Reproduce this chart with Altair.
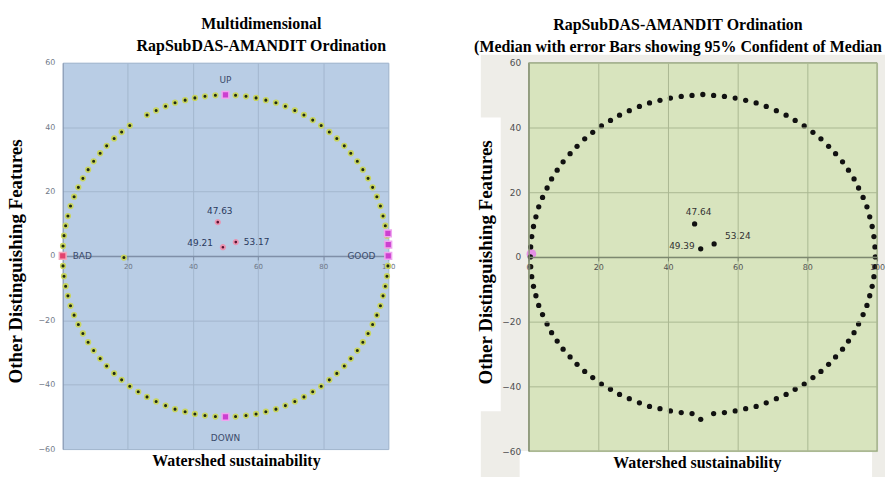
import altair as alt
import pandas as pd

# ---------------- left panel: multidimensional ordination ----------------
left_ring_x = [
    100.0, 99.9, 99.6, 99.1, 98.4, 97.6, 96.5, 95.2, 93.8, 92.2, 90.5, 88.5, 86.5,
    84.2, 81.9, 79.4, 76.8, 74.1, 71.3, 68.4, 65.5, 62.4, 59.4, 56.3, 53.1, 50.0,
    46.9, 43.7, 40.6, 37.6, 34.5, 31.6, 28.7, 25.9, 20.6, 18.1, 15.8, 13.5, 11.5,
    9.5, 7.8, 6.2, 4.8, 3.5, 2.4, 1.6, 0.9, 0.4, 0.1, 0.0,
    0.1, 0.4, 0.9, 1.6, 2.4, 3.5, 4.8, 6.2, 7.8, 9.5, 11.5, 13.5, 15.8, 18.1, 20.6,
    23.2, 25.9, 28.7, 31.6, 34.5, 37.6, 40.6, 43.7, 46.9, 50.0,
    53.1, 56.3, 59.4, 62.4, 65.5, 68.4, 71.3, 74.1, 76.8, 79.4, 81.9, 84.2, 86.5,
    88.5, 90.5, 92.2, 93.8, 95.2, 96.5, 97.6, 98.4, 99.1, 99.6, 99.9,
]
left_ring_y = [
    0.0, 3.1, 6.3, 9.4, 12.4, 15.5, 18.4, 21.3, 24.1, 26.8, 29.4, 31.9, 34.2,
    36.5, 38.5, 40.5, 42.2, 43.8, 45.2, 46.5, 47.6, 48.4, 49.1, 49.6, 49.9, 50.0,
    49.9, 49.6, 49.1, 48.4, 47.6, 46.5, 45.2, 43.8, 40.5, 38.5, 36.5, 34.2, 31.9,
    29.4, 26.8, 24.1, 21.3, 18.4, 15.5, 12.4, 9.4, 6.3, 3.1, 0.0,
    -3.1, -6.3, -9.4, -12.4, -15.5, -18.4, -21.3, -24.1, -26.8, -29.4, -31.9, -34.2,
    -36.5, -38.5, -40.5, -42.2, -43.8, -45.2, -46.5, -47.6, -48.4, -49.1, -49.6,
    -49.9, -50.0,
    -49.9, -49.6, -49.1, -48.4, -47.6, -46.5, -45.2, -43.8, -42.2, -40.5, -38.5,
    -36.5, -34.2, -31.9, -29.4, -26.8, -24.1, -21.3, -18.4, -15.5, -12.4, -9.4,
    -6.3, -3.1,
]
left_stray_x = [18.8]
left_stray_y = [-0.5]
left_ref_x = [50.0, 50.0, 100.0, 100.0, 99.9]
left_ref_y = [50.0, -50.0, 0.0, 3.5, 7.0]
left_bad_x = [0.0]
left_bad_y = [0.0]
left_anchor_names = ["UP", "DOWN", "BAD", "GOOD"]
left_anchor_x = [50.0, 50.0, 0.0, 100.0]
left_anchor_y = [50.0, -50.0, 0.0, 0.0]
left_median_x = [47.63, 49.21, 53.17]
left_median_y = [10.5, 2.7, 4.3]

# ---------------- right panel: medians ----------------
right_ring_x = [
    99.5, 99.4, 99.1, 98.6, 97.9, 97.1, 96.0, 94.7, 93.4, 91.8, 90.1, 88.1, 86.1,
    83.9, 81.6, 79.1, 76.5, 73.9, 71.1, 68.2, 65.3, 62.3, 59.3, 56.2, 53.1, 50.0,
    46.9, 43.8, 40.7, 37.7, 34.7, 31.8, 28.9, 26.1, 23.5, 20.9, 18.4, 16.1, 13.9,
    11.9, 9.9, 8.2, 6.6, 5.3, 4.0, 2.9, 2.1, 1.4, 0.9, 0.6, 0.5,
    0.6, 0.9, 1.4, 2.1, 2.9, 4.0, 5.3, 6.6, 8.2, 9.9, 11.9, 13.9, 16.1, 18.4, 20.9,
    23.5, 26.1, 28.9, 31.8, 34.7, 37.7, 40.7, 43.8, 46.9, 49.4,
    53.1, 56.2, 59.3, 62.3, 65.3, 68.2, 71.1, 73.9, 76.5, 79.1, 81.6, 83.9, 86.1,
    88.1, 90.1, 91.8, 93.4, 94.7, 96.0, 97.1, 97.9, 98.6, 99.1, 99.4,
]
right_ring_y = [
    0.0, 3.1, 6.3, 9.4, 12.4, 15.5, 18.4, 21.3, 24.1, 26.8, 29.4, 31.9, 34.2,
    36.5, 38.5, 40.5, 42.2, 43.8, 45.2, 46.5, 47.6, 48.4, 49.1, 49.6, 49.9, 50.2,
    49.9, 49.6, 49.1, 48.4, 47.6, 46.5, 45.2, 43.8, 42.2, 40.5, 38.5, 36.5, 34.2,
    31.9, 29.4, 26.8, 24.1, 21.3, 18.4, 15.5, 12.4, 9.4, 6.3, 3.1, 0.0,
    -3.0, -6.1, -9.1, -12.0, -15.0, -17.8, -20.7, -23.4, -26.0, -28.5, -30.9, -33.2,
    -35.4, -37.3, -39.3, -40.9, -42.5, -43.8, -45.1, -46.2, -46.9, -47.6, -48.1,
    -48.4, -50.2,
    -48.4, -48.1, -47.6, -46.9, -46.2, -45.1, -43.8, -42.5, -40.9, -39.3, -37.3,
    -35.4, -33.2, -30.9, -28.5, -26.0, -23.4, -20.7, -17.8, -15.0, -12.0, -9.1,
    -6.1, -3.0,
]
right_origin_x = [0.8]
right_origin_y = [0.9]
right_median_x = [47.64, 49.39, 53.24]
right_median_y = [10.2, 2.5, 4.0]

x_ticks_left = [20, 40, 60, 80, 100]
x_ticks_right = [0, 20, 40, 60, 80, 100]
y_ticks = [-60, -40, -20, 0, 20, 40, 60]

TITLE_LEFT = ["Multidimensional", "RapSubDAS-AMANDIT Ordination"]
TITLE_RIGHT = ["RapSubDAS-AMANDIT Ordination",
               "(Median with error Bars showing 95% Confident of Median"]
X_TITLE = "Watershed sustainability"
Y_TITLE = "Other Distinguishing Features"

SERIF = "Liberation Serif"
SANS = "DejaVu Sans"

W1, H1 = 327, 388
W2, H2 = 350, 390


def frame(xs, ys):
    return pd.DataFrame({"x": xs, "y": ys})


def axes(width, height, x_values, grid_color, zero_color, label_color,
         x_title_x, y_title_x, label_size, z):
    x_enc = alt.X(
        "x:Q",
        scale=alt.Scale(domain=[0, 100], nice=False, zero=False),
        axis=alt.Axis(
            values=x_values, offset=-height / 2, format="d",
            title=X_TITLE, titleX=x_title_x, titleY=height / 2 + 17,
            titleAlign="center", titleBaseline="alphabetic",
            titleFont=SERIF, titleFontSize=16, titleFontWeight="bold",
            titleColor="#000000",
            grid=True, gridColor=grid_color, gridWidth=1,
            domainColor=zero_color, domainWidth=1.5,
            tickColor=zero_color, tickSize=4,
            labelFont=SANS, labelFontSize=label_size - 1, labelColor=label_color,
            labelPadding=3, labelFlush=False, zindex=z,
        ),
    )
    y_enc = alt.Y(
        "y:Q",
        scale=alt.Scale(domain=[-60, 60], nice=False, zero=False),
        axis=alt.Axis(
            values=y_ticks, format="d",
            title=Y_TITLE, titleX=y_title_x, titleY=height / 2 + 5,
            titleAngle=-90, titleAlign="center", titleBaseline="middle",
            titleFont=SERIF, titleFontSize=19, titleFontWeight="bold",
            titleColor="#000000",
            grid=True, gridColor=grid_color, gridWidth=1,
            domainColor=zero_color, domainWidth=1, ticks=False,
            labelFont=SANS, labelFontSize=label_size, labelColor=label_color,
            labelPadding=8, zindex=z,
        ),
    )
    return x_enc, y_enc


def median_labels(df, x_enc, y_enc, placements, color, size):
    out = []
    for i, (dx, dy, align) in enumerate(placements):
        out.append(
            alt.Chart(df)
            .transform_filter(alt.datum.i == i)
            .mark_text(dx=dx, dy=dy, align=align, baseline="middle",
                       font=SANS, fontSize=size, color=color)
            .encode(x=x_enc, y=y_enc, text=alt.Text("x:Q", format=".2f"))
        )
    return out


# ---------------- left panel ----------------
X1, Y1 = axes(W1, H1, x_ticks_left, "#a3b6ce", "#7f8fa8", "#6f7888", 174, -47, 8, 0)

ring1 = alt.Chart(frame(left_ring_x + left_stray_x, left_ring_y + left_stray_y)).mark_circle(
    size=22, color="#1f2a14", opacity=1, stroke="#c9d55e", strokeWidth=1.6
).encode(x=X1, y=Y1)

refs1 = alt.Chart(frame(left_ref_x, left_ref_y)).mark_square(
    size=46, color="#cc3fd0", opacity=1, stroke="#efa6f0", strokeWidth=1.5
).encode(x=X1, y=Y1)

bad1 = alt.Chart(frame(left_bad_x, left_bad_y)).mark_square(
    size=46, color="#e2426e", opacity=1, stroke="#f5a8bd", strokeWidth=1.5
).encode(x=X1, y=Y1)

anchor_df = pd.DataFrame({"name": left_anchor_names, "x": left_anchor_x, "y": left_anchor_y})
anchor_style = dict(font=SANS, fontSize=9, color="#3b4b6b", baseline="middle")
anchor_place = {"UP": (0, -15, "center"), "DOWN": (0, 21, "center"),
                "BAD": (10, 0, "left"), "GOOD": (-13, 0, "right")}
anchor_layers = [
    alt.Chart(anchor_df).transform_filter(alt.datum.name == n)
    .mark_text(dx=p[0], dy=p[1], align=p[2], **anchor_style)
    .encode(x=X1, y=Y1, text="name:N")
    for n, p in anchor_place.items()
]

med1_df = pd.DataFrame({"x": left_median_x, "y": left_median_y, "i": [0, 1, 2]})
med1 = alt.Chart(med1_df).mark_circle(
    size=20, color="#5a1232", opacity=1, stroke="#eb93b0", strokeWidth=1.8
).encode(x=X1, y=Y1)
med1_labels = median_labels(med1_df, X1, Y1,
                            [(2, -11, "center"), (-10, -4, "right"), (8, 0, "left")],
                            "#2a3a5e", 9)

left = alt.layer(ring1, refs1, bad1, med1, *anchor_layers, *med1_labels).properties(
    width=W1, height=H1,
    view=alt.ViewBackground(fill="#b9cde5", stroke="#b9cde5"),
    title=alt.TitleParams(TITLE_LEFT, font=SERIF, fontSize=16, fontWeight="bold",
                          color="#000000", anchor="middle", frame="group",
                          dx=36, offset=5, lineHeight=22),
)

# ---------------- right panel ----------------
X2, Y2 = axes(W2, H2, x_ticks_right, "#aab892", "#7d8870", "#4f4f4f", 169, -43, 9, 1)

one = pd.DataFrame({"k": [0]})
chart_area = alt.Chart(one).mark_rect(color="#eeede8").encode(
    x=alt.value(-48), x2=alt.value(W2 + 8), y=alt.value(-8), y2=alt.value(H2 + 26))
y_title_box = alt.Chart(one).mark_rect(color="#ffffff").encode(
    x=alt.value(-57), x2=alt.value(-28), y=alt.value(55), y2=alt.value(350))
x_title_box = alt.Chart(one).mark_rect(color="#ffffff").encode(
    x=alt.value(-9), x2=alt.value(345), y=alt.value(H2), y2=alt.value(H2 + 26))
plot_area = alt.Chart(one).mark_rect(color="#d8e4be", stroke="#8d9878", strokeWidth=1).encode(
    x=alt.value(0), x2=alt.value(W2), y=alt.value(0), y2=alt.value(H2))

origin2 = alt.Chart(frame(right_origin_x, right_origin_y)).mark_circle(
    size=95, color="#e58be6", opacity=0.95
).encode(x=X2, y=Y2)

ring2 = alt.Chart(frame(right_ring_x, right_ring_y)).mark_circle(
    size=28, color="#111111", opacity=1
).encode(x=X2, y=Y2)

med2_df = pd.DataFrame({"x": right_median_x, "y": right_median_y, "i": [0, 1, 2]})
med2 = alt.Chart(med2_df).mark_circle(size=28, color="#111111", opacity=1).encode(x=X2, y=Y2)
med2_labels = median_labels(med2_df, X2, Y2,
                            [(4, -12, "center"), (-6, -3, "right"), (11, -8, "left")],
                            "#333333", 9)

right = alt.layer(chart_area, y_title_box, x_title_box, plot_area, origin2, ring2, med2,
                  *med2_labels).properties(
    width=W2, height=H2,
    view=alt.ViewBackground(fill="#d8e4be", stroke="#d8e4be"),
    title=alt.TitleParams(TITLE_RIGHT, font=SERIF, fontSize=16, fontWeight="bold",
                          color="#000000", anchor="middle", frame="group",
                          dx=-25, offset=0, lineHeight=22),
)

chart = alt.hconcat(left, right, spacing=75).properties(
    padding={"left": 6, "top": 14, "right": 0, "bottom": 0},
    background="#ffffff",
)

chart.save("out.html", embed_options={"renderer": "svg", "actions": False})
